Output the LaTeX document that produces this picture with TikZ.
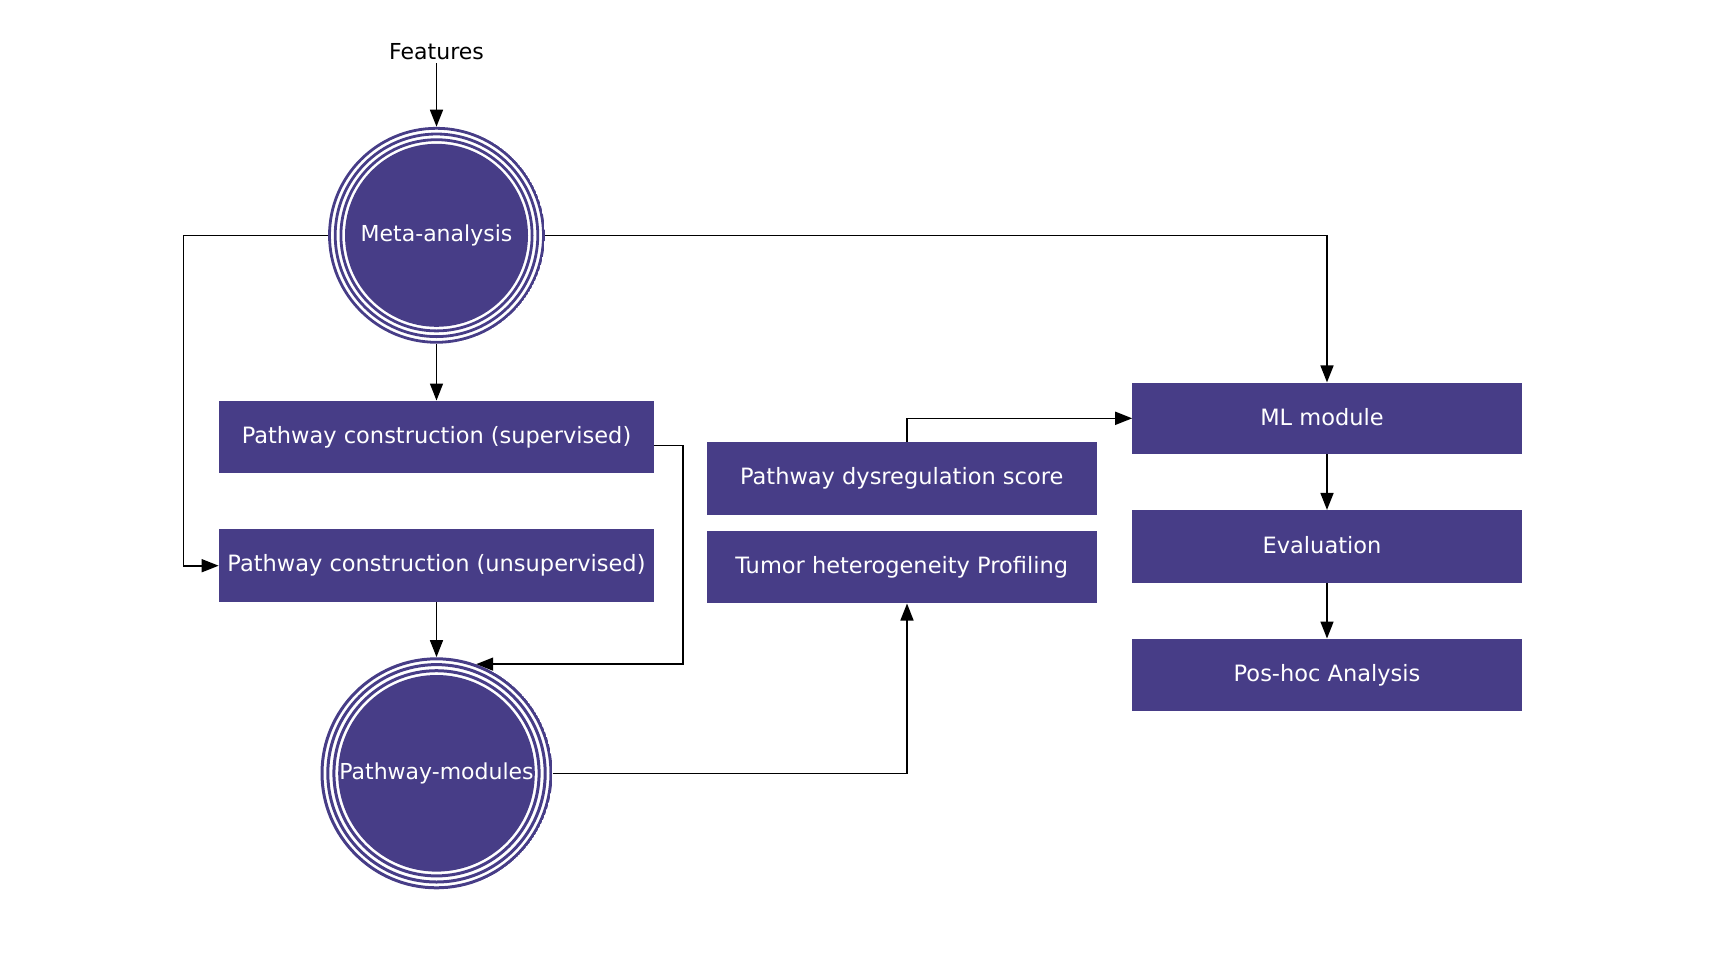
\documentclass[tikz,border=0pt]{standalone}
\usepackage{fontspec}
\setmainfont{DejaVu Sans}
\usetikzlibrary{arrows.meta,calc}
\definecolor{pur}{HTML}{473D87}
\tikzset{
  box/.style={rectangle, fill=pur, text=white, inner sep=0pt, minimum height=72.6pt,
    font=\fontsize{22.5}{27}\selectfont},
  conn/.style={line width=1.6pt, draw=black, -{Triangle[length=17pt,width=13pt]}},
  metaring/.style={circle, inner sep=0pt, minimum size=216.8pt, text=white,
    font=\fontsize{22}{26}\selectfont,
    path picture={
      \fill[pur] (path picture bounding box.center) circle (91.5pt);
      \foreach \r in {95.6pt,101.3pt,107pt}{\draw[pur, line width=2.8pt] (path picture bounding box.center) circle (\r);}
    }},
  pmring/.style={circle, inner sep=0pt, minimum size=232pt, text=white,
    font=\fontsize{22}{26}\selectfont,
    path picture={
      \fill[pur] (path picture bounding box.center) circle (98.3pt);
      \foreach \r in {102.6pt,108.7pt,114.5pt}{\draw[pur, line width=3pt] (path picture bounding box.center) circle (\r);}
    }},
}
\begin{document}
\begin{tikzpicture}[x=1pt,y=-1pt]
\useasboundingbox (0,0) rectangle (1724,962);

\node[font=\fontsize{22}{26}\selectfont] (feat) at (436.5,51.7) {Features};
\node[metaring] (meta) at (436.5,235.3) {Meta-analysis};
\node[pmring] (pm) at (436.5,773.3) {Pathway-modules};

\node[box, minimum width=435.3pt] (sup) at (436.5,437) {Pathway construction (supervised)};
\node[box, minimum width=435.3pt] (unsup) at (436.5,565.7) {Pathway construction (unsupervised)};
\node[box, minimum width=390pt] (dys) at (901.7,478.7) {Pathway dysregulation score};
\node[box, minimum width=390pt] (tumor) at (901.7,567) {Tumor heterogeneity Profiling};
\node[box, minimum width=389.2pt, minimum height=71.4pt, text depth=2pt] (ml) at (1327,418.3) {\hspace*{-10pt}ML module};
\node[box, minimum width=389.2pt, text depth=2pt] (eval) at (1327,546.4) {\hspace*{-10pt}Evaluation};
\node[box, minimum width=389.2pt] (pos) at (1327,675) {Pos-hoc Analysis};

\coordinate (lft) at (183.6,235.3);
\coordinate (rt) at (683,445.3);
\coordinate (mid) at (907,773.3);

\draw[conn] (feat.south) -- (meta.north);
\draw[conn] (meta.west) -- (lft) |- (unsup.west);
\draw[conn] (meta.east) -| (ml.north);
\draw[conn] (meta.south) -- (sup.north);
\draw[conn] (sup.east |- rt) -- (rt) |- (pm.70.4);
\draw[conn] (unsup.south) -- (pm.north);
\draw[conn] (pm.east) -- (mid) -- (mid |- tumor.south);
\draw[conn] (dys.north -| mid) |- (ml.west);
\draw[conn] (ml.south) -- (eval.north);
\draw[conn] (eval.south) -- (pos.north);
\end{tikzpicture}
\end{document}
